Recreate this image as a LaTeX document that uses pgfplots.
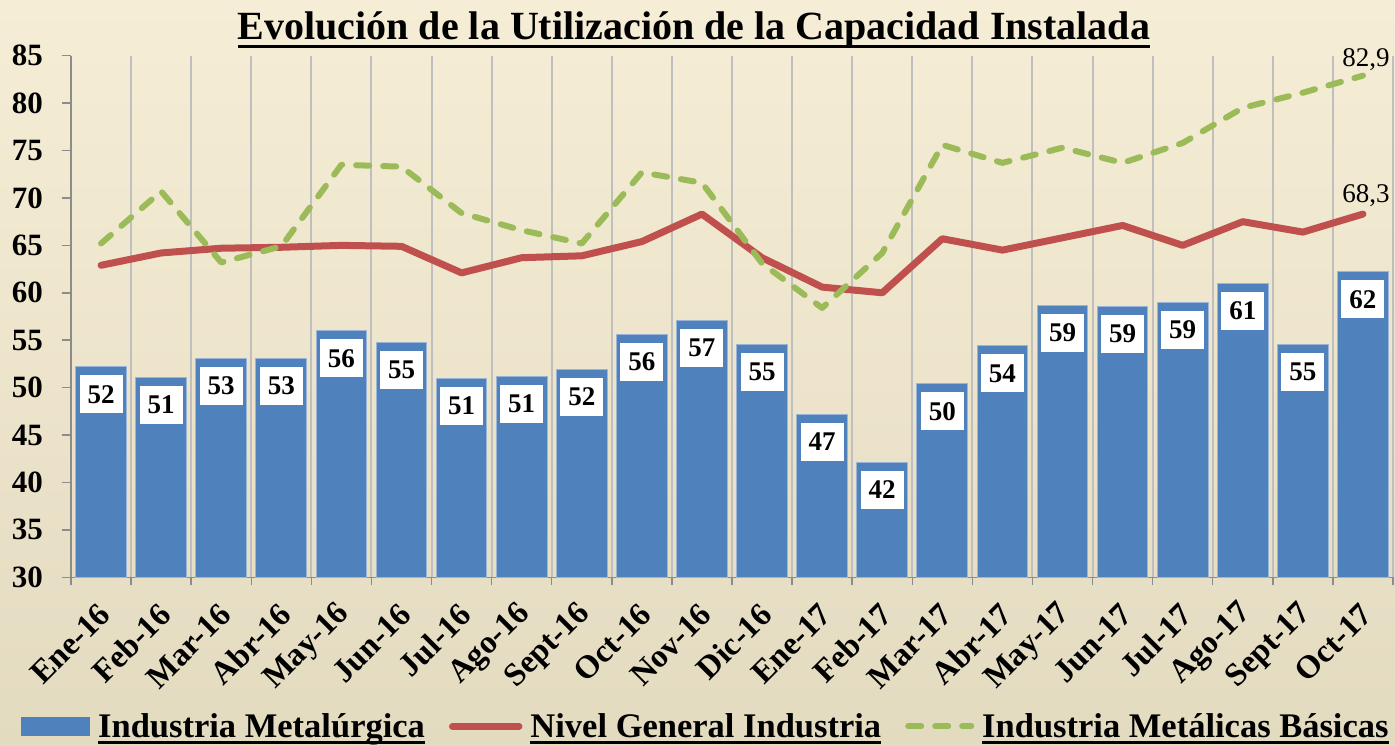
\documentclass[border=0pt]{standalone}
\usepackage{pgfplots}
\pgfplotsset{compat=1.18}
\usepackage{pgfplotstable}
\usepackage{fontspec}
\setmainfont{Liberation Serif}
\definecolor{barblue}{HTML}{4F81BD}
\definecolor{baredge}{HTML}{9AB5D8}
\definecolor{linered}{HTML}{C0504D}
\definecolor{linegreen}{HTML}{9BBB59}
\definecolor{gridgray}{HTML}{BFBFBF}
\definecolor{axisgray}{HTML}{8C8C8C}
\definecolor{bgtop}{RGB}{246,237,214}
\definecolor{bgbot}{RGB}{227,219,192}
\newcommand{\ul}[3]{\setbox0=\hbox{#3}\rlap{\vrule width\wd0 height -#1 depth \dimexpr #1+#2\relax}\box0}

\pgfplotstableread{
x bar lab red green
0 52.2 52 62.9 65.2
1 51.1 51 64.2 70.7
2 53.1 53 64.7 63.2
3 53.1 53 64.8 64.9
4 56.0 56 65.0 73.5
5 54.8 55 64.9 73.3
6 51.0 51 62.1 68.4
7 51.2 51 63.7 66.6
8 51.9 52 63.9 65.2
9 55.6 56 65.4 72.7
10 57.1 57 68.3 71.6
11 54.6 55 63.7 63.1
12 47.2 47 60.6 58.4
13 42.1 42 60.0 64.2
14 50.4 50 65.7 75.6
15 54.4 54 64.5 73.7
16 58.7 59 65.8 75.3
17 58.6 59 67.1 73.7
18 59.0 59 65.0 75.8
19 61.0 61 67.5 79.5
20 54.6 55 66.4 81.1
21 62.2 62 68.3 82.9
}\datatable

\begin{document}
\begin{tikzpicture}
\shade[top color=bgtop, bottom color=bgbot] (0,0) rectangle (1395pt,745pt);
\node[anchor=base, inner sep=0pt, font=\fontsize{40}{44}\selectfont\bfseries] at (694pt,705.5pt) {\ul{6pt}{3pt}{Evolución de la Utilización de la Capacidad Instalada}};
\begin{axis}[
 at={(71pt,167.7pt)}, anchor=south west,
 width=1322pt, height=521.6pt, scale only axis,
 xmin=-0.5, xmax=21.5, ymin=30, ymax=85,
 ytick={30,35,...,85},
 xtick={0,...,21},
 xticklabels={Ene-16,Feb-16,Mar-16,Abr-16,May-16,Jun-16,Jul-16,Ago-16,Sept-16,Oct-16,Nov-16,Dic-16,Ene-17,Feb-17,Mar-17,Abr-17,May-17,Jun-17,Jul-17,Ago-17,Sept-17,Oct-17},
 minor xtick={-0.5,0.5,...,21.5},
 xminorgrids, minor grid style={gridgray, line width=2pt},
 axis x line*=bottom, axis y line*=left,
 axis line style={axisgray, line width=1.5pt, -},
 tick align=outside,
 major tick length=9pt, minor tick length=8pt,
 tick style={axisgray, line width=1.5pt},
 every major x tick/.append style={draw=none},
 /pgf/number format/assume math mode=true,
 yticklabel style={font=\fontsize{31}{31}\selectfont\bfseries, inner sep=0pt, xshift=-19pt},
 xticklabel style={font=\fontsize{32.5}{32.5}\selectfont\bfseries, inner sep=0pt, xshift=4pt, yshift=-23pt, rotate=45, anchor=east},
 legend style={at={(0.481,0)}, anchor=center, yshift=-149pt, draw=none, fill=none,
   legend columns=3, font=\fontsize{34.5}{40}\selectfont\bfseries,
   /tikz/every odd column/.append style={column sep=4pt},
   /tikz/every even column/.append style={column sep=20pt},
   nodes={inner xsep=4pt, inner ysep=1pt}},
 legend cell align=left,
]
\addplot[ybar, bar width=50.7pt, fill=barblue, draw=baredge, line width=1pt,
 nodes near coords, point meta=explicit symbolic,
 nodes near coords style={anchor=north, yshift=-8pt, fill=white, inner sep=0pt,
   minimum width=43pt, minimum height=38pt, text=black, font=\fontsize{27}{27}\selectfont\bfseries},
 legend image code/.code={\fill[barblue] (0pt,-9pt) rectangle (68pt,9pt);}
] table[x=x, y=bar, meta=lab] {\datatable};
\addlegendentry{\ul{3.4pt}{3pt}{Industria Metalúrgica}}
\addplot[linered, line width=7pt, line join=round, line cap=round, mark=none,
 legend image code/.code={\draw[linered, line width=7pt, line cap=round] (3.5pt,0pt) -- (70pt,0pt);}
] table[x=x, y=red] {\datatable};
\addlegendentry{\ul{3.4pt}{3pt}{Nivel General Industria}}
\addplot[linegreen, line width=6pt, dash pattern=on 13pt off 14pt, line cap=round, line join=round, mark=none,
 legend image code/.code={\draw[linegreen, line width=6pt, line cap=round, dash pattern=on 13pt off 14pt] (3pt,0pt) -- (66pt,0pt);}
] table[x=x, y=green] {\datatable};
\addlegendentry{\ul{3.4pt}{3pt}{Industria Metálicas Básicas}}
\addplot[draw=none, mark=none, forget plot, nodes near coords={82,9},
 nodes near coords style={anchor=base, xshift=3pt, yshift=9pt, inner sep=0pt, text=black, font=\fontsize{27}{27}\selectfont}]
 coordinates {(21,82.9)};
\addplot[draw=none, mark=none, forget plot, nodes near coords={68,3},
 nodes near coords style={anchor=base, xshift=3pt, yshift=12pt, inner sep=0pt, text=black, font=\fontsize{27}{27}\selectfont}]
 coordinates {(21,68.3)};
\end{axis}
\pgfresetboundingbox
\useasboundingbox (0,0) rectangle (1395pt,745pt);
\end{tikzpicture}
\end{document}
